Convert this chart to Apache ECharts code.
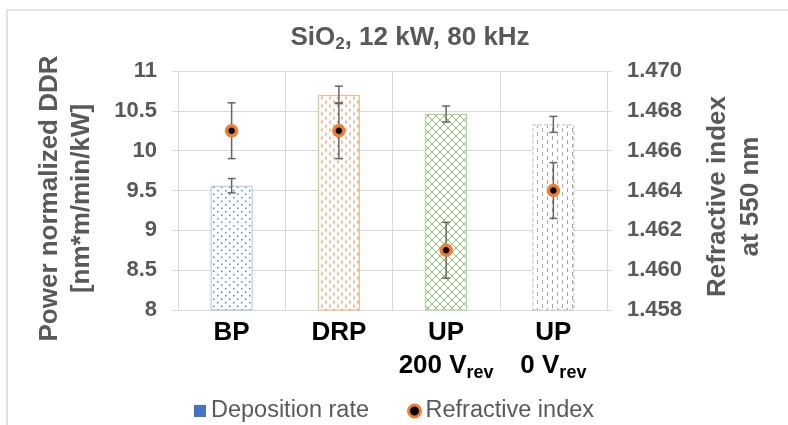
<!DOCTYPE html>
<html>
<head>
<meta charset="utf-8">
<script src="https://cdn.jsdelivr.net/npm/echarts@6/dist/echarts.min.js"></script>
<style>
html, body { margin: 0; padding: 0; background: #fff; }
#chart { width: 788px; height: 425px; }
</style>
</head>
<body>
<div id="chart"></div>
<script>
// categories (rich text markup for the subscript)
var categories = ['BP', 'DRP', 'UP\n200 V{s|rev}', 'UP\n0 V{s|rev}'];

// deposition rate, left axis
var depRate = [9.56, 10.70, 10.46, 10.33];
var depErr = [0.09, 0.11, 0.10, 0.10];

// refractive index, right axis
var refIndex = [1.467, 1.467, 1.461, 1.464];
var refErr = [0.0014, 0.0014, 0.0014, 0.0014];

var FONT = 'Liberation Sans, Arial, sans-serif';
var GREY = '#595959';
var GRID = '#d9d9d9';

function makeTile(w, h, draw) {
    var c = document.createElement('canvas');
    c.width = w;
    c.height = h;
    var ctx = c.getContext('2d');
    ctx.fillStyle = '#fff';
    ctx.fillRect(0, 0, w, h);
    draw(ctx);
    return c;
}

// fill patterns like the excel ones
var dotTile = makeTile(8, 7, function (ctx) {
    ctx.fillStyle = '#4f82d4';
    ctx.fillRect(1, 1, 1.5, 1.5);
    ctx.fillRect(5, 4.5, 1.5, 1.5);
});
var chevTile = makeTile(8, 8, function (ctx) {
    ctx.strokeStyle = '#f0935f';
    ctx.lineWidth = 1;
    ctx.beginPath();
    ctx.moveTo(3, 0.5); ctx.lineTo(1, 2); ctx.lineTo(3, 3.5);
    ctx.moveTo(5, 4.5); ctx.lineTo(7, 6); ctx.lineTo(5, 7.5);
    ctx.stroke();
});
var crossTile = makeTile(8, 8, function (ctx) {
    ctx.strokeStyle = '#8cc673';
    ctx.lineWidth = 1;
    ctx.beginPath();
    ctx.moveTo(-1, -1); ctx.lineTo(9, 9);
    ctx.moveTo(9, -1); ctx.lineTo(-1, 9);
    ctx.stroke();
});
var dashTile = makeTile(10, 8, function (ctx) {
    ctx.strokeStyle = '#a6a6a6';
    ctx.lineWidth = 1;
    ctx.beginPath();
    ctx.moveTo(2.5, 0); ctx.lineTo(2.5, 4);
    ctx.moveTo(7.5, 4); ctx.lineTo(7.5, 8);
    ctx.stroke();
});

var barStyles = [
    {color: {image: dotTile, repeat: 'repeat'}, borderColor: '#a9c1ea', borderWidth: 1},
    {color: {image: chevTile, repeat: 'repeat'}, borderColor: '#f4b183', borderWidth: 1},
    {color: {image: crossTile, repeat: 'repeat'}, borderColor: '#a9d18e', borderWidth: 1},
    {color: {image: dashTile, repeat: 'repeat'}, borderColor: '#bfbfbf', borderWidth: 1, borderType: 'dashed'}
];

var barData = depRate.map(function (v, i) {
    return {value: v, itemStyle: barStyles[i]};
});
var depErrData = depRate.map(function (v, i) {
    return [i, v - depErr[i], v + depErr[i]];
});
var refErrData = refIndex.map(function (v, i) {
    return [i, v - refErr[i], v + refErr[i]];
});

function errorBar(params, api) {
    var x = api.value(0);
    var lo = api.coord([x, api.value(1)]);
    var hi = api.coord([x, api.value(2)]);
    var w = 4;
    var st = {stroke: '#666', lineWidth: 1.5};
    return {
        type: 'group',
        children: [
            {type: 'line', shape: {x1: hi[0] - w, y1: hi[1], x2: hi[0] + w, y2: hi[1]}, style: st},
            {type: 'line', shape: {x1: hi[0], y1: hi[1], x2: lo[0], y2: lo[1]}, style: st},
            {type: 'line', shape: {x1: lo[0] - w, y1: lo[1], x2: lo[0] + w, y2: lo[1]}, style: st}
        ]
    };
}

var option = {
    animation: false,
    textStyle: {fontFamily: FONT},
    title: {
        text: 'SiO{s|2}, 12 kW, 80 kHz',
        left: 410,
        top: 22,
        padding: 0,
        textAlign: 'center',
        textStyle: {
            fontSize: 26,
            fontWeight: 'bold',
            color: GREY,
            lineHeight: 32,
            rich: {
                s: {fontSize: 17, fontWeight: 'bold', color: GREY, lineHeight: 17, padding: [12, 0, 0, 0]}
            }
        }
    },
    legend: {
        left: 'center',
        top: 394,
        itemWidth: 12,
        itemHeight: 12,
        itemGap: 38,
        textStyle: {fontSize: 23.5, color: GREY},
        data: [
            {name: 'Deposition rate', icon: 'rect', itemStyle: {color: '#4472C4', borderWidth: 0}},
            {name: 'Refractive index', icon: 'circle', itemStyle: {color: '#000', borderColor: '#ED7D31', borderWidth: 3}}
        ]
    },
    graphic: [{
        type: 'rect',
        shape: {x: 7, y: 10, width: 800, height: 430},
        style: {fill: null, stroke: GRID, lineWidth: 1.5},
        silent: true
    }],
    grid: {left: 178, right: 181, top: 71, bottom: 115},
    xAxis: {
        type: 'category',
        data: categories,
        boundaryGap: true,
        axisLine: {lineStyle: {color: GRID}},
        axisTick: {show: false},
        splitLine: {show: true, lineStyle: {color: GRID}},
        axisLabel: {
            margin: 6,
            interval: 0,
            fontSize: 26,
            fontWeight: 'bold',
            color: '#000',
            lineHeight: 33,
            rich: {
                s: {fontSize: 18, fontWeight: 'bold', color: '#000', lineHeight: 18, padding: [15, 0, 0, 0]}
            }
        }
    },
    yAxis: [{
        type: 'value',
        min: 8,
        max: 11,
        interval: 0.5,
        name: 'Power normalized DDR\n[nm*m/min/kW]',
        nameLocation: 'middle',
        nameRotate: 90,
        nameGap: 80,
        nameTextStyle: {fontSize: 26, fontWeight: 'bold', color: GREY, lineHeight: 32, padding: [0, 16, 0, 0]},
        axisLine: {show: true, lineStyle: {color: GRID}},
        axisTick: {show: true, length: 6, lineStyle: {color: GRID}},
        splitLine: {lineStyle: {color: GRID}},
        axisLabel: {fontSize: 22, fontWeight: 'bold', color: GREY, margin: 21}
    }, {
        type: 'value',
        min: 1.458,
        max: 1.470,
        interval: 0.002,
        name: 'Refractive index\nat 550 nm',
        nameLocation: 'middle',
        nameRotate: 90,
        nameGap: 94,
        nameTextStyle: {fontSize: 26, fontWeight: 'bold', color: GREY, lineHeight: 33, padding: [0, 12, 0, 0]},
        axisLine: {show: true, lineStyle: {color: GRID}},
        axisTick: {show: true, length: 5, lineStyle: {color: GRID}},
        splitLine: {show: false},
        axisLabel: {
            fontSize: 22,
            fontWeight: 'bold',
            color: GREY,
            margin: 20,
            formatter: function (v) { return v.toFixed(3); }
        }
    }],
    series: [{
        name: 'Deposition rate',
        type: 'bar',
        yAxisIndex: 0,
        barWidth: 42,
        data: barData,
        z: 2
    }, {
        name: 'dep-err',
        type: 'custom',
        yAxisIndex: 0,
        renderItem: errorBar,
        data: depErrData,
        z: 3
    }, {
        name: 'ri-err',
        type: 'custom',
        yAxisIndex: 1,
        renderItem: errorBar,
        data: refErrData,
        z: 3
    }, {
        name: 'Refractive index',
        type: 'scatter',
        yAxisIndex: 1,
        symbol: 'circle',
        symbolSize: 10,
        itemStyle: {color: '#000', borderColor: '#ED7D31', borderWidth: 3.5, opacity: 1},
        data: refIndex,
        z: 4
    }]
};

echarts.init(document.getElementById('chart')).setOption(option);
</script>
</body>
</html>
